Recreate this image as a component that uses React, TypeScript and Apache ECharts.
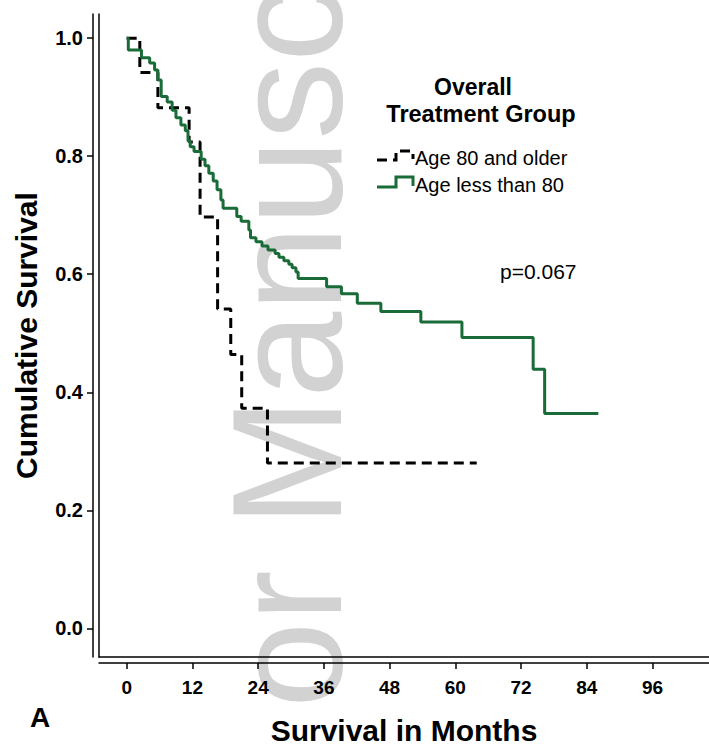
import React, { useEffect, useRef } from "react";
import * as echarts from "echarts";

// Kaplan-Meier curves (time in months, cumulative survival)
const youngTimes = [0, 0.3, 2.7, 4.2, 5.1, 5.7, 6.3, 7.4, 8.3, 9.0, 9.9, 10.7, 11.2, 11.6, 12.3, 13.6, 14.3, 15.0, 15.8, 16.5, 17.2, 17.6, 20.1, 20.9, 22.3, 22.6, 23.6, 24.7, 25.8, 27.1, 27.8, 28.7, 29.6, 30.2, 30.9, 31.3, 36.5, 39.2, 42.1, 46.4, 53.7, 61.2, 74.2, 76.3, 86.1];
const youngSurv = [1.0, 0.98, 0.967, 0.958, 0.946, 0.929, 0.901, 0.892, 0.878, 0.865, 0.853, 0.843, 0.826, 0.816, 0.808, 0.795, 0.784, 0.771, 0.758, 0.743, 0.726, 0.712, 0.698, 0.69, 0.675, 0.662, 0.655, 0.648, 0.641, 0.635, 0.629, 0.623, 0.617, 0.611, 0.604, 0.593, 0.579, 0.567, 0.551, 0.537, 0.519, 0.493, 0.439, 0.364, 0.364];

const oldTimes = [0, 2.4, 5.7, 11.4, 13.4, 16.6, 19.0, 21.0, 25.7, 63.9];
const oldSurv = [1.0, 0.942, 0.882, 0.824, 0.697, 0.541, 0.464, 0.373, 0.28, 0.28];

const xTicks = [0, 12, 24, 36, 48, 60, 72, 84, 96];
const yTicks = [0, 0.2, 0.4, 0.6, 0.8, 1.0];

const seriesNames = ["Age 80 and older", "Age less than 80"];
const legendTitle = ["Overall", "Treatment Group"];
const pText = "p=0.067";

const FONT = "'Liberation Sans', Arial, sans-serif";
const GREEN = "#196b38";

export default function App() {
  const ref = useRef<HTMLDivElement>(null);
  useEffect(() => {
    if (!ref.current) return;
    const chart = echarts.init(ref.current, null, { renderer: "svg" });
    const xMin = -5.05, xMax = 106.3, yMin = -0.0486, yMax = 1.041;
    const line = { color: "#000", width: 1.5 };
    const option: any = {
      animation: false,
      grid: { left: 99, top: 14, right: 0, bottom: 96 },
      xAxis: [
        {
          type: "value", min: xMin, max: xMax, position: "bottom", offset: 6,
          axisLine: { show: true, onZero: false, lineStyle: line },
          axisTick: { show: true, customValues: xTicks, length: 6, inside: false, lineStyle: line },
          axisLabel: { customValues: xTicks, fontSize: 19, fontWeight: "bold", color: "#000", margin: 15, fontFamily: FONT },
          splitLine: { show: false },
          name: "Survival in Months", nameLocation: "middle", nameGap: 52,
          nameTextStyle: { fontSize: 30, fontWeight: "bold", color: "#000", fontFamily: FONT },
        },
        {
          type: "value", min: xMin, max: xMax, position: "bottom", offset: 0,
          axisLine: { show: true, onZero: false, lineStyle: line },
          axisTick: { show: false }, axisLabel: { show: false }, splitLine: { show: false },
        },
      ],
      yAxis: [
        {
          type: "value", min: yMin, max: yMax, position: "left", offset: 6,
          axisLine: { show: true, onZero: false, lineStyle: line },
          axisTick: { show: true, customValues: yTicks, length: 6, inside: false, lineStyle: line },
          axisLabel: { customValues: yTicks, formatter: (v: number) => v.toFixed(1), fontSize: 20, fontWeight: "bold", color: "#000", margin: 10, fontFamily: FONT },
          splitLine: { show: false },
          name: "Cumulative Survival", nameLocation: "middle", nameGap: 52,
          nameTextStyle: { fontSize: 30, fontWeight: "bold", color: "#000", fontFamily: FONT },
        },
        {
          type: "value", min: yMin, max: yMax, position: "left", offset: 0,
          axisLine: { show: true, onZero: false, lineStyle: line },
          axisTick: { show: false }, axisLabel: { show: false }, splitLine: { show: false },
        },
      ],
      graphic: [
        {
          type: "text", x: 365, y: 708, rotation: Math.PI / 2, z: 0, silent: true,
          style: { text: "or Manusc", fontSize: 155, fontFamily: FONT, fill: "#d2d2d2", textAlign: "left", textVerticalAlign: "bottom" },
        },
        { type: "text", x: 473, y: 87, style: { text: legendTitle[0], fontSize: 23, fontWeight: "bold", fontFamily: FONT, fill: "#000", textAlign: "center", textVerticalAlign: "middle" } },
        { type: "text", x: 481, y: 114, style: { text: legendTitle[1], fontSize: 23.5, fontWeight: "bold", fontFamily: FONT, fill: "#000", textAlign: "center", textVerticalAlign: "middle" } },
        { type: "polyline", shape: { points: [[377, 160], [396, 160], [396, 151], [413, 151], [413, 159]] }, style: { stroke: "#000", lineWidth: 3, lineDash: [10, 6], fill: "none" } },
        { type: "polyline", shape: { points: [[377, 187], [396, 187], [396, 177], [413, 177], [413, 186]] }, style: { stroke: GREEN, lineWidth: 3, fill: "none" } },
        { type: "text", x: 415, y: 158, style: { text: seriesNames[0], fontSize: 20, fontFamily: FONT, fill: "#000", textAlign: "left", textVerticalAlign: "middle" } },
        { type: "text", x: 415, y: 185, style: { text: seriesNames[1], fontSize: 20, fontFamily: FONT, fill: "#000", textAlign: "left", textVerticalAlign: "middle" } },
        { type: "text", x: 500, y: 271, style: { text: pText, fontSize: 21, fontFamily: FONT, fill: "#000", textAlign: "left", textVerticalAlign: "middle" } },
        { type: "text", x: 40, y: 717, style: { text: "A", fontSize: 28, fontWeight: "bold", fontFamily: FONT, fill: "#000", textAlign: "center", textVerticalAlign: "middle" } },
      ],
      series: [
        {
          name: seriesNames[0], type: "line", step: "end", symbol: "none", z: 3,
          data: oldTimes.map((t, i) => [t, oldSurv[i]]),
          lineStyle: { color: "#000", width: 3, type: [10, 6] },
        },
        {
          name: seriesNames[1], type: "line", step: "end", symbol: "none", z: 4,
          data: youngTimes.map((t, i) => [t, youngSurv[i]]),
          lineStyle: { color: GREEN, width: 3 },
        },
      ],
    };
    chart.setOption(option);
    return () => chart.dispose();
  }, []);
  return (
    <div
      ref={ref}
      style={{ position: "absolute", left: 0, top: 0, width: 709, height: 753, background: "#fff" }}
    />
  );
}
